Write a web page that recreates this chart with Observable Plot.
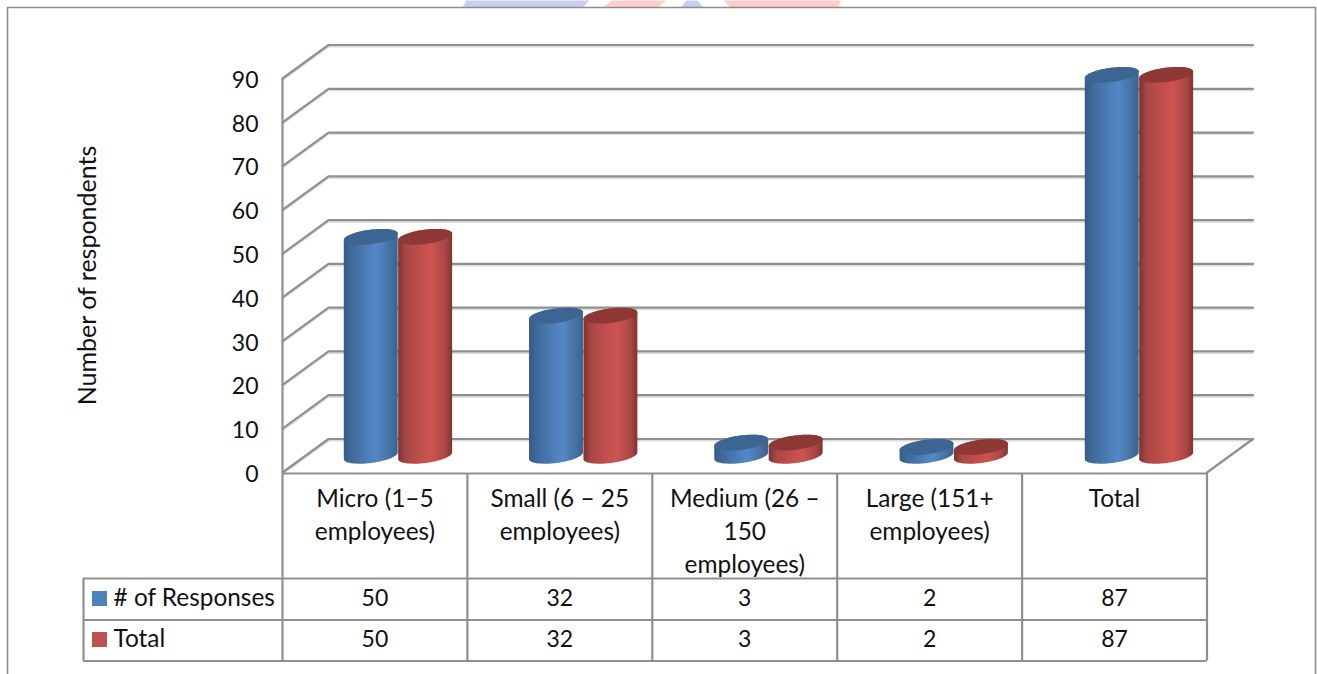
<!DOCTYPE html>
<html>
<head>
<meta charset="utf-8">
<script src="https://cdn.jsdelivr.net/npm/d3@7"></script>
<script src="https://cdn.jsdelivr.net/npm/@observablehq/plot@0.6"></script>
<style>
  html, body { margin: 0; padding: 0; background: #fff; overflow: hidden; }
  svg { display: block; }
</style>
</head>
<body>
<div id="chart"></div>
<script>
// Survey results: respondents by business size
const categories = ["Micro (1–5\nemployees)", "Small (6 – 25\nemployees)", "Medium (26 –\n150\nemployees)", "Large (151+\nemployees)", "Total"];
const responses = [50, 32, 3, 2, 87];
const totals = [50, 32, 3, 2, 87];
const seriesNames = ["# of Responses", "Total"];
const yTicks = [0, 10, 20, 30, 40, 50, 60, 70, 80, 90];
const fontFamily = "Lato, 'Open Sans', sans-serif";

// Scale ranges: one category column per x unit, value units on y
const xRange = [282, 1206.5];
const yRange = [472, 78];
const pxX = (xRange[1] - xRange[0]) / categories.length;   // pixels per category
const pxY = (yRange[0] - yRange[1]) / 90;                  // pixels per value unit

// Pixel lengths expressed in scale units
const ux = (px) => px / pxX;
const uy = (px) => px / pxY;
const rowY = (px) => (yRange[0] - px) / pxY;               // a page row as a y value
const colX = (px) => (px - xRange[0]) / pxX;               // a page column as an x value

// Oblique depth of the chart box
const depthX = ux(46);
const depthY = uy(33.5);

// Cylinder cross-section: a flattened, slightly tilted ellipse
const radiusX = 27.2;
const radiusY = 7.2;
const tilt = -7.5 * Math.PI / 180;
const pairPitch = ux(185.25);
const angles = d3.range(0, 2 * Math.PI + 0.01, Math.PI / 30);
const rim = (t) => ({
  dx: radiusX * Math.cos(t) * Math.cos(tilt) - radiusY * Math.sin(t) * Math.sin(tilt),
  dy: radiusX * Math.cos(t) * Math.sin(tilt) + radiusY * Math.sin(t) * Math.cos(tilt)
});

// Back wall, side wall and floor lines
const gridLines = yTicks.flatMap((v) =>
  [[0, v], [depthX, v + depthY], [categories.length + depthX, v + depthY]].map(([x, y]) => ({x, y, v}))
);
const floorEdge = [[categories.length, 0], [categories.length + depthX, depthY]].map(([x, y]) => ({x, y}));

// One blue and one red cylinder per category
const series = [
  {name: seriesNames[0], values: responses, offset: -27.2, body: "url(#cyl-blue)", cap: "#3c6593"},
  {name: seriesNames[1], values: totals, offset: 27.2, body: "url(#cyl-red)", cap: "#8e3835"}
];
const cylinder = (s, i) => {
  const cx = i * pairPitch + 0.5 + depthX / 2 + ux(s.offset);
  const base = depthY / 2;
  const top = s.values[i] + depthY / 2;
  const point = (t, level) => {
    const r = rim(t);
    return {x: cx + ux(r.dx), y: level - uy(r.dy)};
  };
  // Body outline: lower half of the base rim, then back along the top rim
  const lower = d3.range(0, Math.PI + 0.01, Math.PI / 30).map((t) => point(t, base));
  const upper = d3.range(Math.PI, 2 * Math.PI + 0.01, Math.PI / 30).map((t) => point(t, top));
  const cap = angles.map((t) => point(t, top));
  return {body: [...lower, ...upper], cap};
};

// The table beneath the plot
const colLines = d3.range(0, categories.length + 1);
const rowTop = 473, rowHead = 578, rowOne = 619.5, rowTwo = 660.5;
const legendLeft = colX(83);

// Horizontal shading used on the cylinder bodies
const gradients = () => {
  const ns = "http://www.w3.org/2000/svg";
  const defs = document.createElementNS(ns, "defs");
  const make = (id, stops) => {
    const g = document.createElementNS(ns, "linearGradient");
    g.setAttribute("id", id);
    stops.forEach(([o, c]) => {
      const s = document.createElementNS(ns, "stop");
      s.setAttribute("offset", o);
      s.setAttribute("stop-color", c);
      g.appendChild(s);
    });
    defs.appendChild(g);
  };
  make("cyl-blue", [[0, "#345b87"], [0.14, "#40699b"], [0.5, "#4f81bd"], [0.62, "#5487c5"], [0.88, "#44709f"], [1, "#39628f"]]);
  make("cyl-red", [[0, "#7d3230"], [0.14, "#a84745"], [0.5, "#c6514e"], [0.62, "#cc5451"], [0.88, "#a84644"], [1, "#803331"]]);
  return defs;
};

const ink = "#111";
const rule = "#8f8f8f";
const ruleWidth = 2.2;
const textSize = 24.4;
const numberSize = 23;

const cylinders = series.flatMap((s) => categories.map((_, i) => ({s, shape: cylinder(s, i)})));

// Faint page decoration clipped by the chart frame
const stripes = [
  {fill: "#cbcdf1", pts: [[462, 7], [466, 0], [589, 0], [582, 7]]},
  {fill: "#ffcdcd", pts: [[602, 7], [612, 0], [666, 0], [657, 7]]},
  {fill: "#cbcdf1", pts: [[680, 7], [686, 0], [697, 0], [703, 7]]},
  {fill: "#ffcdcd", pts: [[730, 7], [723, 0], [840, 0], [838, 7]]}
];

const chart = Plot.plot({
  width: 1317,
  height: 674,
  margin: 0,
  style: {fontFamily, background: "#fff", overflow: "visible"},
  x: {type: "linear", domain: [0, categories.length], range: xRange, axis: null},
  y: {type: "linear", domain: [0, 90], range: yRange, axis: null},
  marks: [
    gradients,

    // Page stripes and chart frame
    ...stripes.map((st) => Plot.line(st.pts, {
      x: (d) => colX(d[0]), y: (d) => rowY(d[1]), fill: st.fill, stroke: null
    })),
    Plot.line([[7, 674], [7, 7], [1315, 7], [1315, 674]], {
      x: (d) => colX(d[0]), y: (d) => rowY(d[1]), stroke: "#8c8c8c", strokeWidth: 1.6
    }),

    // Grid with its soft lower edge
    Plot.line(gridLines, {x: "x", y: "y", z: "v", stroke: "#dcdcdc", strokeWidth: 1.5, dy: 1.8}),
    Plot.line(gridLines, {x: "x", y: "y", z: "v", stroke: rule, strokeWidth: ruleWidth}),
    Plot.line(floorEdge, {x: "x", y: "y", stroke: rule, strokeWidth: ruleWidth}),
    Plot.ruleX([0], {y1: 0, y2: 90, stroke: rule, strokeWidth: ruleWidth}),

    // Cylinders, blue before red so that the red overlaps
    ...cylinders.flatMap(({s, shape}) => [
      Plot.line(shape.body, {x: "x", y: "y", fill: s.body, stroke: null}),
      Plot.line(shape.cap, {x: "x", y: "y", fill: s.cap, stroke: null})
    ]),

    // Value axis labels and title
    Plot.text(yTicks, {
      x: colX(258), y: (d) => d, dy: 2, text: (d) => `${d}`, textAnchor: "end", fontSize: numberSize, fill: ink
    }),
    Plot.text(["Number of respondents"], {
      x: colX(87), y: rowY(275), rotate: -90, fontSize: 25, fill: ink, text: (d) => d
    }),

    // Table rules
    Plot.ruleY([rowTop, rowHead, rowOne, rowTwo], {
      y: rowY, x1: (d) => (d === rowTop || d === rowHead ? 0 : legendLeft),
      x2: categories.length, stroke: rule, strokeWidth: ruleWidth
    }),
    Plot.ruleY([rowHead], {y: rowY, x1: legendLeft, x2: 0, stroke: rule, strokeWidth: ruleWidth}),
    Plot.ruleX(colLines, {x: (d) => d, y1: rowY(rowTop), y2: rowY(rowTwo), stroke: rule, strokeWidth: ruleWidth}),
    Plot.ruleX([legendLeft], {y1: rowY(rowHead), y2: rowY(rowTwo), stroke: rule, strokeWidth: ruleWidth}),

    // Category headers
    Plot.text(categories, {
      x: (_, i) => i + 0.5, y: rowY(483), text: (d) => d, lineAnchor: "top",
      lineHeight: 1.355, fontSize: textSize, fill: ink
    }),

    // Table values
    ...series.map((s, r) => Plot.text(s.values, {
      x: (_, i) => i + 0.5, y: rowY(r === 0 ? 598 : 639), text: (d) => `${d}`, fontSize: numberSize, fill: ink
    })),

    // Series keys
    ...series.map((s, r) => Plot.rect([s.name], {
      x1: colX(92), x2: colX(107),
      y1: rowY(r === 0 ? 591 : 632), y2: rowY(r === 0 ? 606 : 647),
      fill: r === 0 ? "#4f81bd" : "#c0504d"
    })),
    ...series.map((s, r) => Plot.text([s.name], {
      x: colX(113), y: rowY(r === 0 ? 598 : 639), text: (d) => d, textAnchor: "start", fontSize: textSize, fill: ink
    }))
  ]
});

document.getElementById("chart").appendChild(chart);
</script>
</body>
</html>
